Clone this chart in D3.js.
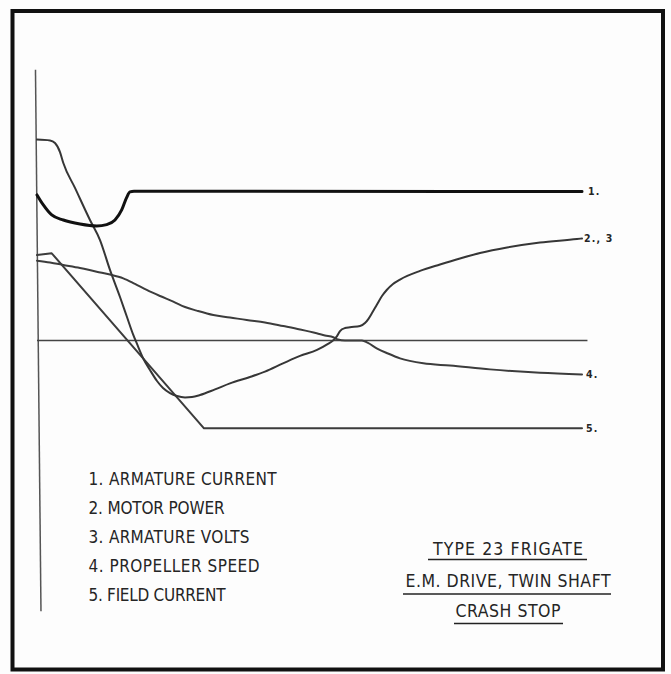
<!DOCTYPE html>
<html>
<head>
<meta charset="utf-8">
<script src="https://cdn.jsdelivr.net/npm/d3@7/dist/d3.min.js"></script>
<style>
  html, body { margin: 0; padding: 0; background: #fdfdfd; }
  svg { display: block; }
  .lettering { font-family: "DejaVu Sans Condensed", "Liberation Sans Narrow", "DejaVu Sans", sans-serif; font-stretch: condensed; fill: #252525; }
</style>
</head>
<body>
<svg id="chart" width="671" height="674"></svg>
<script>
// Crash-stop transient, time axis 0..100, values in % of rating (0 = zero line)
const armatureCurrent = [
  [0, 72.6], [1.16, 67.6], [2.7, 62.6], [4.83, 60.1], [7.89, 58.1], [10.95, 57.1],
  [12.79, 57.8], [14.31, 60.1], [15.54, 65.1], [16.46, 71.4], [17.06, 74.1],
  [17.8, 74.4], [100, 74.3]
];
const motorPowerVolts = [
  [0, 100.2], [2.39, 99.75], [3.3, 98.5], [4.22, 94.0], [4.83, 88.5], [6.97, 76.1],
  [9.72, 60.1], [11.56, 50.1], [13.39, 35.2], [15.23, 21.7], [16.51, 11.7],
  [17.61, 3.2], [18.35, -1.7], [19.45, -8.7], [20.73, -14.7], [22.02, -20.2],
  [23.12, -23.7], [24.4, -26.2], [25.69, -27.7], [27.16, -28.4], [28.44, -28.2],
  [29.91, -27.2], [32.66, -24.4], [35.41, -21.4], [39.08, -18.2], [41.83, -15.5],
  [45.14, -11.4], [48.26, -7.7], [51.38, -4.7], [53.39, -1.7], [54.31, 0],
  [55.05, 2.2], [55.6, 4.7], [56.51, 6.2], [57.43, 6.6], [59.27, 7.2], [60.18, 8.7],
  [60.79, 10.7], [61.47, 13.7], [62.33, 17.7], [63.3, 22.2], [64.17, 25.2],
  [65.32, 28.2], [66.61, 30.4], [70.28, 34.7], [73.94, 37.9], [77.61, 40.9],
  [81.28, 43.6], [86.24, 46.4], [92.29, 48.9], [99.08, 50.6], [100, 50.9]
];
const propellerSpeed = [
  [0, 39.8], [2.39, 38.9], [4.83, 37.7], [7.89, 36.2], [10.95, 34.3], [13.39, 32.9],
  [15.83, 31.0], [17.98, 28.2], [20.13, 25.2], [22.57, 22.2], [25.01, 19.4],
  [27.16, 16.7], [29.3, 14.9], [32.35, 12.7], [35.41, 11.5], [38.48, 10.2],
  [41.83, 9.0], [45.19, 7.2], [48.26, 5.5], [51.32, 3.6], [52.84, 2.5], [54.37, 1.6],
  [55.23, 0.5], [56.51, 0], [59.63, 0], [60.73, -1.2], [62.33, -3.9], [64.4, -6.5],
  [66.61, -8.9], [70.88, -11.4], [75.78, -12.5], [83.12, -14.4], [92.29, -16.1],
  [100, -16.9]
];
const fieldCurrent = [
  [0, 42.6], [2.7, 43.5], [30.64, -43.8], [100, -43.8]
];
const curveLabels = ["1.", "2., 3", "4.", "5."];
const legendItems = [
  "1. ARMATURE CURRENT",
  "2. MOTOR POWER",
  "3. ARMATURE VOLTS",
  "4. PROPELLER SPEED",
  "5. FIELD CURRENT"
];
const titleLines = ["TYPE 23 FRIGATE", "E.M. DRIVE, TWIN SHAFT", "CRASH STOP"];

const svg = d3.select("#chart");

// page frame
svg.append("rect")
  .attr("x", 12.5).attr("y", 11).attr("width", 650.5).attr("height", 658.5)
  .attr("fill", "#fdfdfd").attr("stroke", "#111").attr("stroke-width", 4);

const x = d3.scaleLinear().domain([0, 100]).range([37, 582]);
const y = d3.scaleLinear().domain([-100, 100]).range([541, 140]);

// axes: vertical value axis and the zero line
svg.append("line")
  .attr("x1", x(-0.28)).attr("y1", y(135))
  .attr("x2", x(0.73)).attr("y2", y(-135))
  .attr("stroke", "#555").attr("stroke-width", 1.5);
svg.append("line")
  .attr("x1", x(0)).attr("y1", y(0))
  .attr("x2", x(101)).attr("y2", y(0))
  .attr("stroke", "#444").attr("stroke-width", 1.4);

const smooth = d3.line().x(d => x(d[0])).y(d => y(d[1])).curve(d3.curveMonotoneX);
const straight = d3.line().x(d => x(d[0])).y(d => y(d[1]));

const series = [
  { data: fieldCurrent, gen: straight, width: 2, color: "#3c3c3c" },
  { data: propellerSpeed, gen: smooth, width: 2, color: "#3c3c3c" },
  { data: motorPowerVolts, gen: smooth, width: 2, color: "#363636" },
  { data: armatureCurrent, gen: smooth, width: 3, color: "#111" }
];
series.forEach(s => {
  svg.append("path")
    .attr("d", s.gen(s.data))
    .attr("fill", "none")
    .attr("stroke", s.color)
    .attr("stroke-width", s.width)
    .attr("stroke-linejoin", "round")
    .attr("stroke-linecap", "round");
});

// end-of-curve labels
const labelEnds = [armatureCurrent, motorPowerVolts, propellerSpeed, fieldCurrent];
const labelDx = [6, 2, 4, 4];
svg.selectAll("text.endlabel")
  .data(curveLabels)
  .join("text")
  .attr("class", "lettering endlabel")
  .attr("x", (d, i) => x(100) + labelDx[i])
  .attr("y", (d, i) => y(labelEnds[i][labelEnds[i].length - 1][1]) + 3.8)
  .attr("font-size", 10.5)
  .attr("font-weight", "bold")
  .attr("letter-spacing", 1.2)
  .text(d => d);

// legend
const legendWidths = [188, 136, 161, 171, 137];
svg.selectAll("text.legend")
  .data(legendItems)
  .join("text")
  .attr("class", "lettering legend")
  .attr("x", 88.5)
  .attr("y", (d, i) => 485 + i * 28.9)
  .attr("font-size", 17)
  .attr("textLength", (d, i) => legendWidths[i])
  .attr("lengthAdjust", "spacing")
  .text(d => d);

// title block, centred and underlined
const titleCx = 508;
const titleBase = [555, 586.7, 616.7];
const titleWidths = [150, 205, 105];
const underline = [[428, 587, 559.5], [403, 611, 594], [454, 563, 623.5]];
titleLines.forEach((t, i) => {
  svg.append("text")
    .attr("class", "lettering")
    .attr("x", titleCx - titleWidths[i] / 2)
    .attr("y", titleBase[i])
    .attr("font-size", 17.5)
    .attr("textLength", titleWidths[i])
    .attr("lengthAdjust", "spacing")
    .text(t);
  svg.append("line")
    .attr("x1", underline[i][0]).attr("x2", underline[i][1])
    .attr("y1", underline[i][2]).attr("y2", underline[i][2])
    .attr("stroke", "#222").attr("stroke-width", 1.4);
});
</script>
</body>
</html>
